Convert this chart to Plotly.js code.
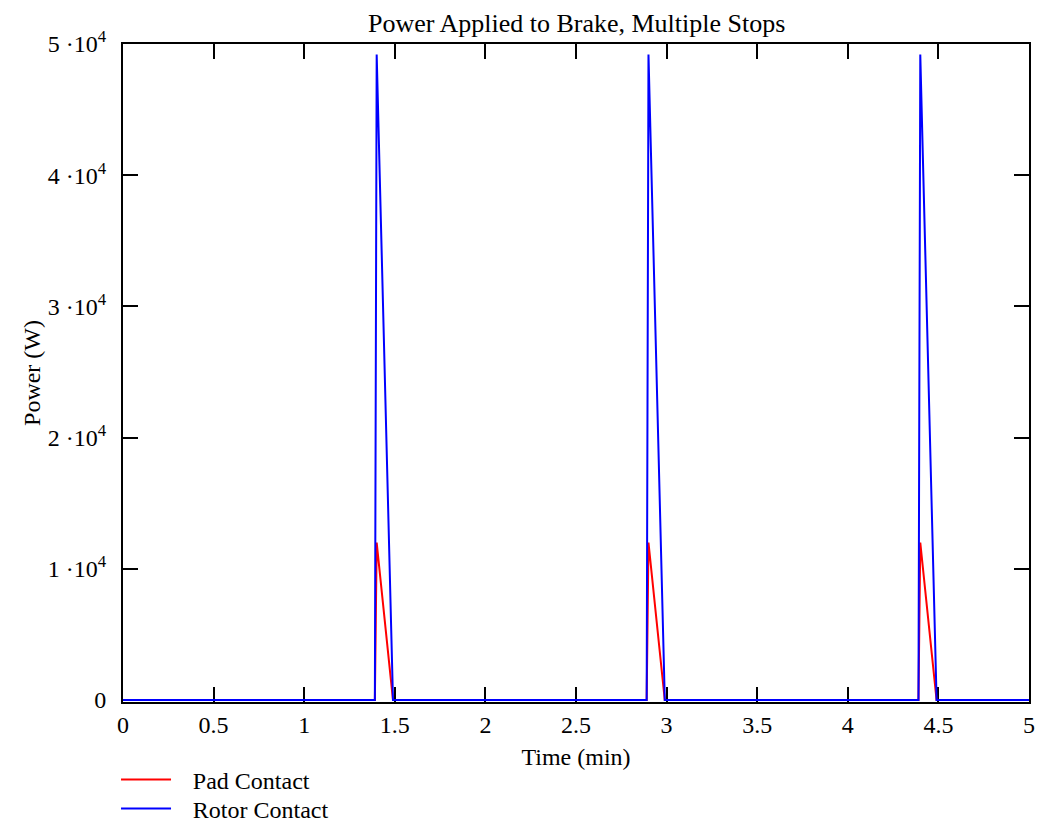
<!DOCTYPE html>
<html><head><meta charset="utf-8">
<script src="https://cdn.plot.ly/plotly-3.0.1.min.js"></script>
<style>body{margin:0;padding:0;background:#fff}#chart{width:1039px;height:827px}</style>
</head><body><div id="chart"></div>
<script>
const timeMin = [0, 1.39, 1.40, 1.49, 2.89, 2.90, 2.99, 4.39, 4.40, 4.49, 5];
const padContact = [0, 0, 12000, 0, 0, 12000, 0, 0, 12000, 0, 0];
const rotorContact = [0, 0, 49200, 0, 0, 49200, 0, 0, 49200, 0, 0];
const yTickVals = [0, 10000, 20000, 30000, 40000, 50000];
const yTickText = ['0', '1 ·10<sup>4</sup>', '2 ·10<sup>4</sup>', '3 ·10<sup>4</sup>', '4 ·10<sup>4</sup>', '5 ·10<sup>4</sup>'];
const xTickVals = [0, 0.5, 1, 1.5, 2, 2.5, 3, 3.5, 4, 4.5, 5];
const xTickText = ['0', '0.5', '1', '1.5', '2', '2.5', '3', '3.5', '4', '4.5', '5'];

const fam = 'Liberation Serif, Times New Roman, serif';
const font = {family: fam, size: 24, color: '#000'};
const data = [
  {x: timeMin, y: padContact, name: '\u00a0\u00a0\u2009Pad Contact', mode: 'lines', line: {color: '#ff0000', width: 2}, legend: 'legend'},
  {x: timeMin, y: rotorContact, name: '\u00a0\u00a0\u2009Rotor Contact', mode: 'lines', line: {color: '#0000ff', width: 2}, legend: 'legend2'}
];
const legBase = {
  x: -0.0077, xanchor: 'left', yanchor: 'middle',
  orientation: 'v', bgcolor: 'rgba(0,0,0,0)', itemwidth: 50,
  font: {family: fam, size: 24, color: '#000'}, tracegroupgap: 0
};
const layout = {
  width: 1039, height: 827,
  margin: {l: 123, r: 10, t: 44, b: 125, autoexpand: false},
  paper_bgcolor: '#fff', plot_bgcolor: '#fff',
  font: font,
  showlegend: true,
  title: {text: 'Power Applied to Brake, Multiple Stops', x: 0.555, xanchor: 'center', y: 0.972, yanchor: 'middle', font: {family: fam, size: 26, color: '#000'}},
  xaxis: {
    range: [0, 5], tickvals: xTickVals, ticktext: xTickText,
    ticks: 'inside', ticklen: 15, tickwidth: 2, tickcolor: '#000',
    showline: true, linecolor: '#000', linewidth: 2, mirror: 'ticks',
    showgrid: false, zeroline: false, ticklabelstandoff: 0, layer: 'below traces',
    title: {text: 'Time (min)', standoff: 11, font: {family: fam, size: 24, color: '#000'}},
    tickfont: {family: fam, size: 24, color: '#000'}
  },
  yaxis: {
    range: [-150, 50000], tickvals: yTickVals, ticktext: yTickText,
    ticks: 'inside', ticklen: 15, tickwidth: 2, tickcolor: '#000',
    showline: true, linecolor: '#000', linewidth: 2, mirror: 'ticks',
    showgrid: false, zeroline: false, ticklabelstandoff: 10, layer: 'below traces',
    title: {text: 'Power (W)', standoff: 0, font: {family: fam, size: 24, color: '#000'}},
    tickfont: {family: fam, size: 24, color: '#000'}
  },
  legend: Object.assign({}, legBase, {y: -(780 - 702) / 658}),
  legend2: Object.assign({}, legBase, {y: -(809 - 702) / 658})
};
Plotly.newPlot('chart', data, layout, {displayModeBar: false, staticPlot: true});
</script></body></html>
